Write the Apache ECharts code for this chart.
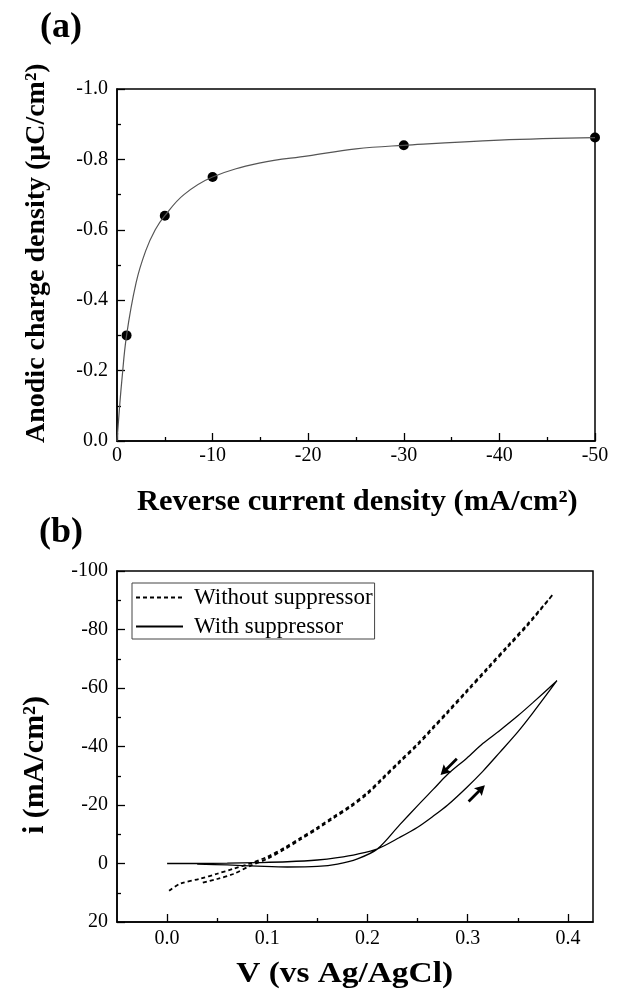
<!DOCTYPE html>
<html>
<head>
<meta charset="utf-8">
<script src="https://cdn.jsdelivr.net/npm/echarts@6/dist/echarts.min.js"></script>
<style>
  html, body { margin: 0; padding: 0; background: #fff; }
  #main { width: 622px; height: 999px; }
</style>
</head>
<body>
<div id="main"></div>
<script>
// (a) measured points
var currentA = [-1, -5, -10, -30, -50];
var chargeA = [-0.30, -0.64, -0.75, -0.84, -0.862];
// (a) fitted curve
var fitX = [0, -0.25, -0.5, -1, -2, -3, -4, -5, -7, -10, -15, -20, -25, -30, -40, -50];
var fitY = [0, -0.09, -0.17, -0.30, -0.45, -0.54, -0.60, -0.64, -0.70, -0.75, -0.79, -0.81, -0.83, -0.84, -0.855, -0.862];

// (b) without suppressor, forward + return scan
var dashFwdV = [0.002, 0.013, 0.033, 0.05, 0.066, 0.083, 0.10, 0.117, 0.133, 0.15, 0.166, 0.183, 0.20, 0.215, 0.232, 0.25, 0.265, 0.28, 0.30, 0.32, 0.34, 0.36, 0.385];
var dashFwdI = [9.3, 6.9, 5.2, 3.5, 1.8, 0, -2.3, -5.4, -8.7, -12.3, -16.0, -19.8, -24.3, -29.3, -35, -41, -46.5, -52, -59.5, -67, -74.5, -82, -92];
var dashRevV = [0.36, 0.34, 0.32, 0.30, 0.28, 0.265, 0.25, 0.232, 0.215, 0.20, 0.183, 0.166, 0.15, 0.133, 0.117, 0.10, 0.083, 0.066, 0.05, 0.033];
var dashRevI = [-81.5, -74, -66.5, -59, -51.5, -46, -40.5, -34.5, -28.8, -23.8, -19.3, -15.5, -11.8, -8.2, -4.8, -1.6, 0.8, 3.6, 5.3, 6.8];

// (b) with suppressor, forward + return scan
var solFwdV = [0.0, 0.03, 0.06, 0.09, 0.12, 0.15, 0.17, 0.19, 0.21, 0.232, 0.25, 0.266, 0.28, 0.299, 0.315, 0.332, 0.35, 0.365, 0.389];
var solFwdI = [0, 0, -0.1, -0.3, -0.6, -1.2, -2.0, -3.2, -5.0, -8.9, -12.4, -16.3, -20, -26, -31.5, -38, -45, -51.5, -62.5];
var solRevV = [0.365, 0.35, 0.332, 0.315, 0.299, 0.28, 0.266, 0.25, 0.232, 0.21, 0.19, 0.17, 0.15, 0.12, 0.09, 0.06, 0.03];
var solRevI = [-55, -50.5, -45.5, -41, -36, -30.5, -25.5, -19.8, -13.2, -5.0, -1.6, 0.2, 1.0, 1.2, 0.9, 0.5, 0.2];

// scan direction arrows [V, i, rotate]
var arrows = [[0.281, -33, 135], [0.309, -24, -45]];

var xTicksB = [0, 0.1, 0.2, 0.3, 0.4];
var xMinorB = [0.05, 0.15, 0.25, 0.35];

function pairs(xs, ys) {
    var out = [];
    xs.forEach(function (x, i) { out.push([x, ys[i]]); });
    return out;
}

var serif = 'Liberation Serif';
var tickFont = { fontFamily: serif, fontSize: 20, color: '#000' };
var axisLine = { onZero: false, lineStyle: { color: '#000', width: 1.5 } };
var arrowPath = 'path://M5,0L11,9.5L6.5,8.2L6.5,22L3.5,22L3.5,8.2L-1,9.5Z';

var chart = echarts.init(document.getElementById('main'));

var option = {
    backgroundColor: '#fff',
    animation: false,
    grid: [
        { left: 117, top: 89, right: 27, height: 352, show: true, borderColor: '#000', borderWidth: 1.5 },
        { left: 117, top: 571, right: 29, height: 351, show: true, borderColor: '#000', borderWidth: 1.5 }
    ],
    xAxis: [{
        gridIndex: 0, type: 'value', min: -50, max: 0, interval: 10, inverse: true,
        axisLine: axisLine,
        axisTick: { inside: true, length: 8, lineStyle: { color: '#000', width: 1.3 } },
        minorTick: { show: true, splitNumber: 2, length: 4, lineStyle: { color: '#000', width: 1.3 } },
        axisLabel: Object.assign({ margin: 5 }, tickFont),
        splitLine: { show: false }
    }, {
        gridIndex: 1, type: 'value', min: -0.05, max: 0.425,
        axisLine: axisLine,
        axisTick: { inside: true, length: 8, customValues: xTicksB, lineStyle: { color: '#000', width: 1.3 } },
        axisLabel: Object.assign({ margin: 7, customValues: xTicksB, formatter: function (v) { return v.toFixed(1); } }, tickFont),
        splitLine: { show: false }
    }, {
        gridIndex: 1, type: 'value', min: -0.05, max: 0.425, position: 'bottom',
        axisLine: { show: false, onZero: false },
        axisTick: { inside: true, length: 4, customValues: xMinorB, lineStyle: { color: '#000', width: 1.3 } },
        axisLabel: { show: false },
        splitLine: { show: false }
    }],
    yAxis: [{
        gridIndex: 0, type: 'value', min: -1, max: 0, interval: 0.2, inverse: true,
        axisLine: axisLine,
        axisTick: { inside: true, length: 8, lineStyle: { color: '#000', width: 1.3 } },
        minorTick: { show: true, splitNumber: 2, length: 4, lineStyle: { color: '#000', width: 1.3 } },
        axisLabel: Object.assign({ margin: 9, formatter: function (v) { return v.toFixed(1); } }, tickFont),
        splitLine: { show: false }
    }, {
        gridIndex: 1, type: 'value', min: -100, max: 20, interval: 20, inverse: true,
        axisLine: axisLine,
        axisTick: { inside: true, length: 8, lineStyle: { color: '#000', width: 1.3 } },
        minorTick: { show: true, splitNumber: 2, length: 4, lineStyle: { color: '#000', width: 1.3 } },
        axisLabel: Object.assign({ margin: 9 }, tickFont),
        splitLine: { show: false }
    }],
    legend: {
        data: ['Without suppressor', 'With suppressor'],
        orient: 'vertical',
        left: 132, top: 583,
        itemWidth: 47, itemHeight: 12, itemGap: 6,
        padding: [3, 2, 1, 3],
        borderColor: '#444', borderWidth: 1,
        itemStyle: { opacity: 0 },
        textStyle: { fontFamily: serif, fontSize: 23, color: '#000', padding: [0, 0, 0, 6] }
    },
    series: [{
        type: 'line', xAxisIndex: 0, yAxisIndex: 0,
        data: pairs(fitX, fitY),
        smooth: 0.4, showSymbol: false, symbol: 'none',
        lineStyle: { color: '#555', width: 1.2 }
    }, {
        type: 'scatter', xAxisIndex: 0, yAxisIndex: 0,
        data: pairs(currentA, chargeA),
        symbolSize: 10, itemStyle: { color: '#000', opacity: 1 }
    }, {
        name: 'Without suppressor',
        type: 'line', xAxisIndex: 1, yAxisIndex: 1,
        data: pairs(dashFwdV.concat(dashRevV), dashFwdI.concat(dashRevI)),
        smooth: 0.3, symbol: 'none',
        itemStyle: { color: '#000' },
        lineStyle: { color: '#000', width: 1.8, type: [4, 3] }
    }, {
        name: 'With suppressor',
        type: 'line', xAxisIndex: 1, yAxisIndex: 1,
        data: pairs(solFwdV.concat(solRevV), solFwdI.concat(solRevI)),
        smooth: 0.3, symbol: 'none',
        itemStyle: { color: '#000' },
        lineStyle: { color: '#000', width: 1.3 },
        markPoint: {
            symbol: arrowPath,
            symbolSize: [11, 23],
            label: { show: false },
            itemStyle: { color: '#000' },
            data: arrows.map(function (a) {
                return { coord: [a[0], a[1]], symbolRotate: a[2] };
            })
        }
    }],
    graphic: [
        { type: 'text', x: 61, y: 28, style: { text: '(a)', font: 'bold 36px "Liberation Serif"', fill: '#000', textAlign: 'center', textVerticalAlign: 'middle' } },
        { type: 'text', x: 61, y: 533, style: { text: '(b)', font: 'bold 36px "Liberation Serif"', fill: '#000', textAlign: 'center', textVerticalAlign: 'middle' } },
        { type: 'text', x: 37, y: 443, rotation: Math.PI / 2, style: { text: 'Anodic charge density (\u03bcC/cm\u00b2)', font: 'bold 28px "Liberation Serif"', fill: '#000', textAlign: 'left', textVerticalAlign: 'middle' } },
        { type: 'text', x: 137, y: 503, scaleX: 1.05, style: { text: 'Reverse current density (mA/cm\u00b2)', font: 'bold 29px "Liberation Serif"', fill: '#000', textAlign: 'left', textVerticalAlign: 'middle' } },
        { type: 'text', x: 35, y: 834, rotation: Math.PI / 2, style: { text: 'i (mA/cm\u00b2)', font: 'bold 30px "Liberation Serif"', fill: '#000', textAlign: 'left', textVerticalAlign: 'middle' } },
        { type: 'text', x: 453, y: 975, scaleX: 1.15, style: { text: 'V (vs Ag/AgCl)', font: 'bold 29px "Liberation Serif"', fill: '#000', textAlign: 'right', textVerticalAlign: 'middle' } }
    ]
};

chart.setOption(option);
</script>
</body>
</html>
